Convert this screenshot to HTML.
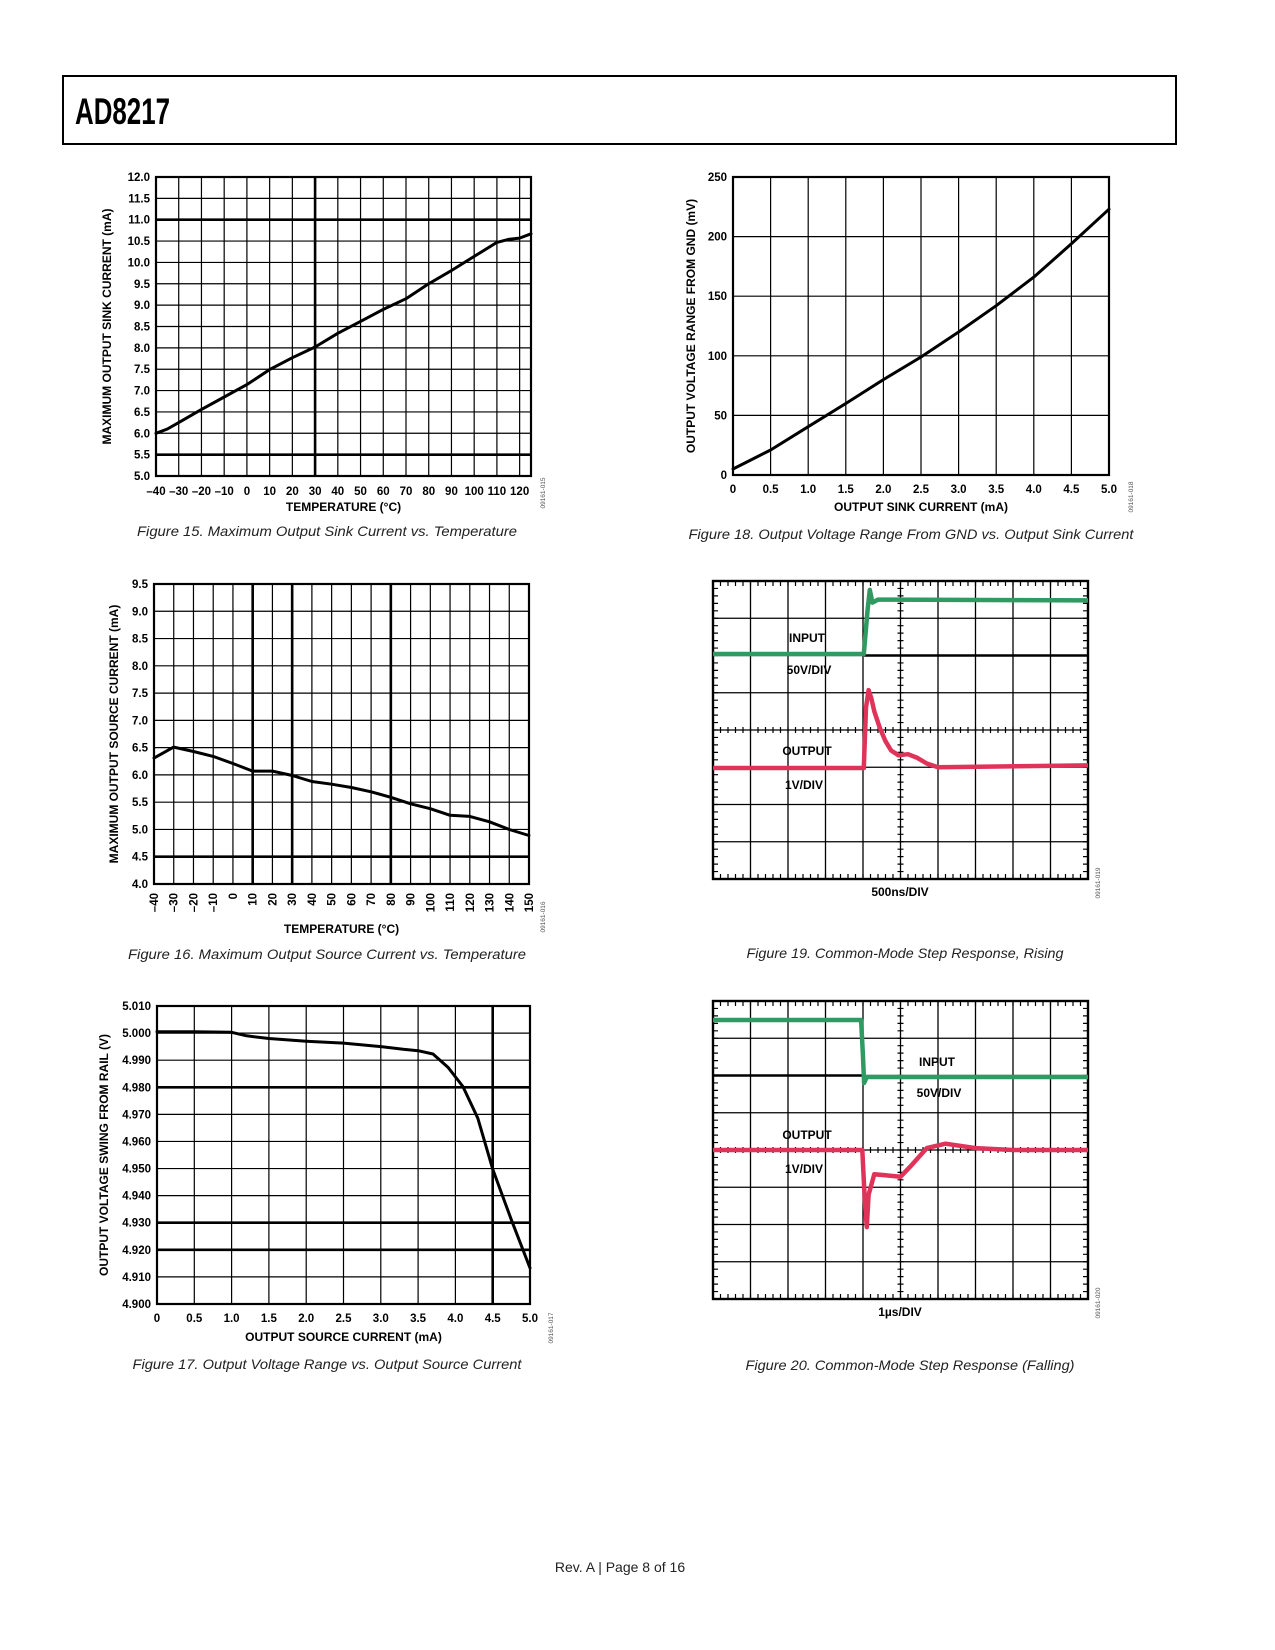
<!DOCTYPE html>
<html><head><meta charset="utf-8"><style>
html,body{margin:0;padding:0;background:#fff;}
svg{display:block;font-family:"Liberation Sans",Arial,sans-serif;}
.tk{font-size:11.5px;font-weight:bold;fill:#000;}
.ttl{font-size:12px;font-weight:bold;fill:#000;}
.cap{font-size:14px;font-style:italic;fill:#222;}
.code{font-size:6.5px;fill:#555;}
.lbl{font-size:12px;font-weight:bold;fill:#000;}
</style></head><body>
<svg id="page" width="1275" height="1650" viewBox="0 0 1275 1650" xmlns="http://www.w3.org/2000/svg">
<rect x="63" y="76" width="1113" height="68" fill="none" stroke="#000" stroke-width="2"/>
<text x="75" y="124" font-family="'Liberation Sans Narrow','Liberation Sans',sans-serif" font-weight="bold" font-size="37" textLength="95" lengthAdjust="spacingAndGlyphs">AD8217</text>
<text x="620" y="1572" text-anchor="middle" font-size="14" fill="#222">Rev. A | Page 8 of 16</text>
</svg>
<script>
// ---------- Figure 15 data ----------
const f15Temps = [-40,-35,-30,-20,-10,0,10,20,30,40,50,60,70,80,90,100,110,115,120,125];
const f15Sink  = [6.0,6.1,6.25,6.56,6.85,7.14,7.49,7.77,8.02,8.34,8.62,8.9,9.15,9.5,9.81,10.14,10.47,10.54,10.57,10.67];
const f15XTicks = [-40,-30,-20,-10,0,10,20,30,40,50,60,70,80,90,100,110,120];
const f15YTicks = [5.0,5.5,6.0,6.5,7.0,7.5,8.0,8.5,9.0,9.5,10.0,10.5,11.0,11.5,12.0];
// ---------- Figure 16 data ----------
const f16Temps = [-40,-30,-20,-10,0,10,20,30,40,50,60,70,80,90,100,110,120,130,140,150];
const f16Source = [6.31,6.51,6.43,6.34,6.21,6.07,6.07,5.99,5.88,5.83,5.77,5.69,5.59,5.47,5.38,5.26,5.24,5.14,5.0,4.89];
const f16XTicks = [-40,-30,-20,-10,0,10,20,30,40,50,60,70,80,90,100,110,120,130,140,150];
const f16YTicks = [4.0,4.5,5.0,5.5,6.0,6.5,7.0,7.5,8.0,8.5,9.0,9.5];
// ---------- Figure 17 data ----------
const f17Current = [0,0.5,1.0,1.2,1.5,2.0,2.5,3.0,3.3,3.5,3.7,3.9,4.1,4.3,4.5,4.75,5.0];
const f17Swing   = [5.0005,5.0005,5.0003,4.999,4.998,4.997,4.9963,4.995,4.994,4.9935,4.9923,4.9874,4.9803,4.9686,4.9498,4.9311,4.9133];
const f17XTicks = [0,0.5,1.0,1.5,2.0,2.5,3.0,3.5,4.0,4.5,5.0];
const f17YTicks = [4.900,4.910,4.920,4.930,4.940,4.950,4.960,4.970,4.980,4.990,5.000,5.010];
// ---------- Figure 18 data ----------
const f18Current = [0,0.25,0.5,1.0,1.5,2.0,2.5,3.0,3.5,4.0,4.5,5.0];
const f18Range   = [5,13,21,40.5,60,80,99,120,142,166,194,223];
const f18XTicks = [0,0.5,1.0,1.5,2.0,2.5,3.0,3.5,4.0,4.5,5.0];
const f18YTicks = [0,50,100,150,200,250];
// ---------- Figure 19 scope data (time div, level div from bottom) ----------
const f19InT = [0,4.02,4.12,4.18,4.25,4.4,10];
const f19InV = [6.04,6.04,7.2,7.76,7.42,7.5,7.48];
const f19OutT = [0,4.02,4.08,4.15,4.22,4.3,4.45,4.6,4.75,4.95,5.2,5.45,5.7,6.0,10];
const f19OutV = [2.98,2.98,4.6,5.07,4.85,4.5,4.05,3.7,3.45,3.32,3.35,3.25,3.1,3.0,3.05];
// ---------- Figure 20 scope data ----------
const f20InT = [0,3.95,4.0,4.03,4.1,10];
const f20InV = [7.49,7.49,6.5,5.8,5.96,5.96];
const f20OutT = [0,3.98,4.05,4.1,4.15,4.3,4.6,5.0,5.3,5.7,6.2,7.0,8,10];
const f20OutV = [4.0,4.0,2.6,1.93,2.8,3.35,3.32,3.28,3.6,4.05,4.17,4.05,4.0,4.0];

const NS='http://www.w3.org/2000/svg';
const page=document.getElementById('page');
function mk(tag,attrs,parent,text){const e=document.createElementNS(NS,tag);for(const k in attrs)e.setAttribute(k,attrs[k]);if(text!==undefined)e.textContent=text;(parent||page).appendChild(e);return e;}
function fmt(v,d){let s=Math.abs(v).toFixed(d);if(v===0&&d===1)s='0';return v<0?'\u2013'+s:s;}

function xyChart(c){
  const g=mk('g',{});
  
  
  const sx=v=>c.L+(v-c.x0)/(c.x1-c.x0)*(c.R-c.L);
  const sy=v=>c.B-(v-c.y0)/(c.y1-c.y0)*(c.B-c.T);
  for(let v=c.x0;v<=c.x1+1e-9;v+=c.xs){const thick=c.thickX.some(t=>Math.abs(t-v)<1e-6);
    const l=mk('line',{x1:sx(v),x2:sx(v),y1:c.T,y2:c.B,stroke:'#000','stroke-width':thick?2.6:1.2},g);
    
    }
  for(let v=c.y0;v<=c.y1+1e-9;v+=c.ys){const thick=c.thickY.some(t=>Math.abs(t-v)<1e-6);
    const l=mk('line',{x1:c.L,x2:c.R,y1:sy(v),y2:sy(v),stroke:'#000','stroke-width':thick?2.6:1.2},g);
    
    }
  const fr=mk('rect',{x:c.L,y:c.T,width:c.R-c.L,height:c.B-c.T,fill:'none',stroke:'#000','stroke-width':2.2},g);
  
  
  c.xTicks.forEach(v=>{let t;
    if(c.rotX){t=mk('text',{class:'tk','text-anchor':'end',transform:`translate(${sx(v)+4},${c.xlY}) rotate(-90)`},g,fmt(v,c.xd));}
    else t=mk('text',{class:'tk',x:sx(v),y:c.xlY,'text-anchor':'middle'},g,fmt(v,c.xd));
    
    });
  c.yTicks.forEach(v=>{const t=mk('text',{class:'tk',x:c.L-6,y:sy(v)+4,'text-anchor':'end'},g,fmt(v,c.yd));
    
    });
  const xt=mk('text',{class:'ttl',x:(c.L+c.R)/2,y:c.xtY,'text-anchor':'middle'},g,c.xTitle);
  
  
  const yt=mk('text',{class:'ttl','text-anchor':'middle',transform:`translate(${c.ytX},${(c.T+c.B)/2}) rotate(-90)`},g,c.yTitle);
  
  
  const d=c.xs_.map((v,i)=>(i?'L':'M')+sx(v).toFixed(1)+','+sy(c.ys_[i]).toFixed(1)).join(' ');
  const p=mk('path',{d:d,fill:'none',stroke:'#000','stroke-width':3,'stroke-linejoin':'round','stroke-linecap':'round'},g);
  
  
  const cap=mk('text',{class:'cap',x:c.capX,y:c.capY,'text-anchor':'middle',textLength:c.capW,lengthAdjust:'spacingAndGlyphs'},g,c.cap);
  
  
  const cd=mk('text',{class:'code','text-anchor':'middle',transform:`translate(${c.codeX},${c.codeY}) rotate(-90)`},g,c.code);
  
  
}

xyChart({name:'figure-15-chart',L:156,R:531,T:177,B:476,x0:-40,x1:125,xs:10,y0:5,y1:12,ys:0.5,thickX:[30],thickY:[5.5,11],
 xTicks:f15XTicks,yTicks:f15YTicks,xd:0,yd:1,xlY:495,xs_:f15Temps,ys_:f15Sink,xTitle:'TEMPERATURE (°C)',xtY:511,yTitle:'MAXIMUM OUTPUT SINK CURRENT (mA)',ytX:111,
 cap:'Figure 15. Maximum Output Sink Current vs. Temperature',capX:327,capY:536,capW:380,code:'09161-015',codeX:545,codeY:493});
xyChart({name:'figure-16-chart',L:154,R:529,T:584,B:884,x0:-40,x1:150,xs:10,y0:4,y1:9.5,ys:0.5,thickX:[10,30,80],thickY:[4.5],
 xTicks:f16XTicks,yTicks:f16YTicks,xd:0,yd:1,rotX:true,xlY:893,xs_:f16Temps,ys_:f16Source,xTitle:'TEMPERATURE (°C)',xtY:933,yTitle:'MAXIMUM OUTPUT SOURCE CURRENT (mA)',ytX:118,
 cap:'Figure 16. Maximum Output Source Current vs. Temperature',capX:327,capY:959,capW:398,code:'09161-016',codeX:545,codeY:917});
xyChart({name:'figure-17-chart',L:157,R:530,T:1006,B:1304,x0:0,x1:5,xs:0.5,y0:4.9,y1:5.01,ys:0.01,thickX:[4.5],thickY:[4.92,4.93,4.98],
 xTicks:f17XTicks,yTicks:f17YTicks,xd:1,yd:3,xlY:1322,xs_:f17Current,ys_:f17Swing,xTitle:'OUTPUT SOURCE CURRENT (mA)',xtY:1341,yTitle:'OUTPUT VOLTAGE SWING FROM RAIL (V)',ytX:108,
 cap:'Figure 17. Output Voltage Range vs. Output Source Current',capX:327,capY:1369,capW:389,code:'09161-017',codeX:553,codeY:1328});
xyChart({name:'figure-18-chart',L:733,R:1109,T:177,B:475,x0:0,x1:5,xs:0.5,y0:0,y1:250,ys:50,thickX:[],thickY:[],
 xTicks:f18XTicks,yTicks:f18YTicks,xd:1,yd:0,xlY:493,xs_:f18Current,ys_:f18Range,xTitle:'OUTPUT SINK CURRENT (mA)',xtY:511,yTitle:'OUTPUT VOLTAGE RANGE FROM GND (mV)',ytX:695,
 cap:'Figure 18. Output Voltage Range From GND vs. Output Sink Current',capX:911,capY:539,capW:445,code:'09161-018',codeX:1133,codeY:497});

function scope(c){
  const g=mk('g',{});
  
  
  const L=713,R=1088,T=c.T,B=c.T+298,dw=(R-L)/10,dh=(B-T)/8;
  const sx=t=>L+t*dw, sy=v=>B-v*dh;
  for(let i=1;i<10;i++){const l=mk('line',{x1:sx(i),x2:sx(i),y1:T,y2:B,stroke:'#000','stroke-width':1.3},g);
    
    }
  for(let j=1;j<8;j++){const l=mk('line',{x1:L,x2:R,y1:sy(j),y2:sy(j),stroke:'#000','stroke-width':1.3},g);
    
    }
  let tk='';
  for(let i=0;i<=50;i++){const x=L+i*dw/5;tk+=`M${x},${B}v-5M${x},${T}v5M${x},${sy(4)-3}v6`;}
  for(let j=0;j<=40;j++){const y=B-j*dh/5;tk+=`M${L},${y}h5M${R},${y}h-5M${sx(5)-3},${y}h6`;}
  const tp=mk('path',{d:tk,stroke:'#000','stroke-width':1.2,fill:'none'},g);
  
  
  const fr=mk('rect',{x:L,y:T,width:R-L,height:B-T,fill:'none',stroke:'#000','stroke-width':2.4},g);
  
  
  const ref=mk('line',{x1:sx(c.refA),x2:sx(c.refB),y1:sy(6),y2:sy(6),stroke:'#000','stroke-width':2.6},g);
  
  
  const path=(ts,vs)=>ts.map((t,i)=>(i?'L':'M')+sx(t).toFixed(1)+','+sy(vs[i]).toFixed(1)).join(' ');
  const pi=mk('path',{d:path(c.inT,c.inV),fill:'none',stroke:'#2f9a62','stroke-width':4.5,'stroke-linejoin':'round'},g);
  
  
  const po=mk('path',{d:path(c.outT,c.outV),fill:'none',stroke:'#e0335a','stroke-width':4.5,'stroke-linejoin':'round'},g);
  
  
  c.labels.forEach(l=>{const t=mk('text',{class:'lbl',x:l[1],y:l[2],'text-anchor':'middle'},g,l[0]);
    
    });
  const tb=mk('text',{class:'lbl',x:900,y:B+17,'text-anchor':'middle'},g,c.time);
  
  
  const cap=mk('text',{class:'cap',x:c.capX,y:c.capY,'text-anchor':'middle',textLength:c.capW,lengthAdjust:'spacingAndGlyphs'},g,c.cap);
  
  
  const cd=mk('text',{class:'code','text-anchor':'middle',transform:`translate(${1100},${B+4}) rotate(-90)`},g,c.code);
  
  
}
scope({name:'figure-19-scope',T:581,refA:4.03,refB:10,inT:f19InT,inV:f19InV,outT:f19OutT,outV:f19OutV,
 labels:[['INPUT',807,642],['50V/DIV',809,674],['OUTPUT',807,755],['1V/DIV',804,789]],time:'500ns/DIV',
 cap:'Figure 19. Common-Mode Step Response, Rising',capX:905,capY:958,capW:317,code:'09161-019'});
scope({name:'figure-20-scope',T:1001,refA:0,refB:4.03,inT:f20InT,inV:f20InV,outT:f20OutT,outV:f20OutV,
 labels:[['INPUT',937,1066],['50V/DIV',939,1097],['OUTPUT',807,1139],['1V/DIV',804,1173]],time:'1µs/DIV',
 cap:'Figure 20. Common-Mode Step Response (Falling)',capX:910,capY:1370,capW:329,code:'09161-020'});
</script>
</body></html>
